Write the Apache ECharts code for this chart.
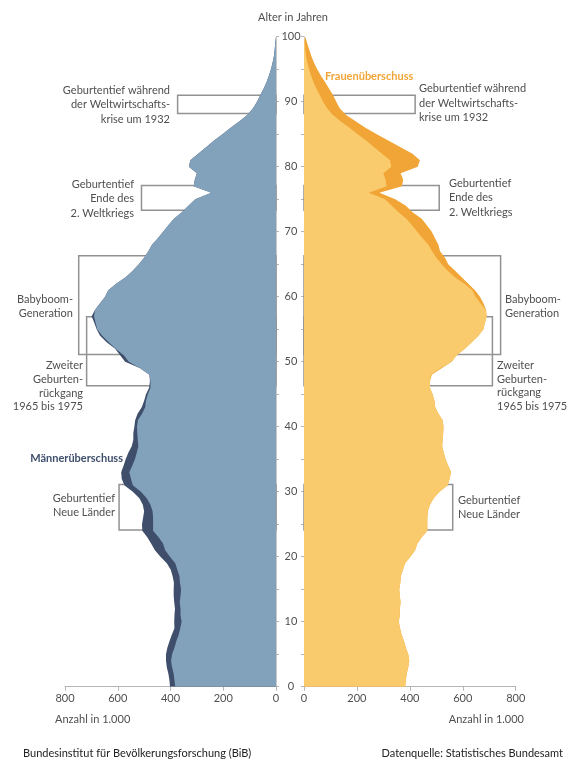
<!DOCTYPE html>
<html>
<head>
<meta charset="utf-8">
<script src="https://cdn.jsdelivr.net/npm/echarts@6.0.0/dist/echarts.min.js"></script>
<style>
html, body { margin: 0; padding: 0; background: #fff; }
#main { width: 571px; height: 760px; }
</style>
</head>
<body>
<div id="main"></div>
<script>
// Alter 0..100, Anzahl in 1.000
var ages = [];
for (var a = 0; a <= 100; a++) ages.push(String(a));

var men = [402, 404, 408, 414, 417, 417, 412, 404, 395, 385,
    386, 385, 383, 386, 388, 388, 387, 392, 399, 414,
    438, 459, 473, 488, 507, 508, 504, 500, 505, 518,
    543, 575, 585, 587, 578, 570, 560, 547, 541, 541,
    537, 534, 525, 509, 500, 493, 481, 478, 480, 515,
    572, 591, 610, 642, 667, 680, 689, 699, 686, 667,
    648, 636, 606, 570, 543, 520, 500, 484, 470, 448,
    428, 408, 387, 357, 332, 306, 245, 312, 308, 300,
    330, 325, 295, 265, 236, 203, 172, 138, 108, 87,
    72, 60, 47, 36, 27, 19, 13, 8, 5, 3, 1];

var women = [382, 385, 388, 394, 398, 394, 385, 378, 369, 363,
    358, 362, 362, 365, 362, 360, 364, 366, 374, 382,
    402, 420, 428, 445, 466, 466, 466, 468, 476, 490,
    512, 543, 550, 556, 545, 535, 528, 522, 524, 526,
    527, 524, 508, 496, 493, 486, 476, 476, 483, 520,
    558, 577, 608, 634, 659, 678, 684, 690, 688, 678,
    665, 646, 621, 596, 571, 545, 533, 514, 508, 495,
    483, 464, 445, 410, 385, 345, 285, 370, 375, 365,
    430, 438, 410, 365, 320, 275, 232, 195, 158, 135,
    122, 110, 95, 80, 64, 50, 38, 28, 20, 12, 5];

var xTicks = [0, 200, 400, 600, 800];

// Markierte Altersbereiche (Kästen)
var boxAges = [[88.2, 91.0], [73.3, 77.1], [51.1, 66.3], [46.3, 56.9], [24.1, 31.1]];
var boxLeft = [373, 510, 748, 718, 595];
var boxRight = [420, 511, 743, 712, 562];

var both = men.map(function (v, i) { return Math.min(v, women[i]); });

var FONT = 'Lato';
var gray = '#4f4f4f';
var txt = '11px Lato';

function boxes(widths) {
    return widths.map(function (w, i) {
        return [{ xAxis: 0, yAxis: boxAges[i][0] }, { xAxis: w, yAxis: boxAges[i][1] }];
    });
}

function xAxisCfg(grid, inverse) {
    return {
        gridIndex: grid, type: 'value', min: xTicks[0], max: xTicks[xTicks.length - 1],
        interval: 200, inverse: inverse,
        axisLine: { show: true, lineStyle: { color: '#b5b5b5', width: 1 } },
        axisTick: { show: true, length: 4, lineStyle: { color: '#b5b5b5' } },
        axisLabel: { color: gray, fontSize: 11, fontFamily: FONT, margin: 6 },
        splitLine: { show: false }
    };
}

function note(x, y, text, align, lh) {
    return {
        type: 'text', x: x, y: y,
        style: { text: text, fill: gray, font: txt, lineHeight: lh || 14.3, textAlign: align, textVerticalAlign: 'middle' }
    };
}

var chart = echarts.init(document.getElementById('main'));

var option = {
    animation: false,
    textStyle: { fontFamily: FONT },
    grid: [
        { left: 65, right: 295, top: 36.7, bottom: 73.3 },
        { left: 304, right: 55.3, top: 36.7, bottom: 73.3 }
    ],
    xAxis: [xAxisCfg(0, true), xAxisCfg(1, false)],
    yAxis: [
        {
            gridIndex: 0, type: 'category', data: ages, boundaryGap: false, position: 'right',
            axisLine: { show: true, lineStyle: { color: '#c8c8c8' } },
            axisTick: { show: true, length: 3, interval: function (i) { return i % 5 === 0; }, lineStyle: { color: '#b5b5b5' } },
            axisLabel: { show: false }
        },
        {
            gridIndex: 1, type: 'category', data: ages, boundaryGap: false, position: 'left',
            axisLine: { show: true, lineStyle: { color: '#c8c8c8' } },
            axisTick: { show: true, length: 3, interval: function (i) { return i % 5 === 0; }, lineStyle: { color: '#b5b5b5' } },
            axisLabel: {
                interval: function (i) { return i % 10 === 0; },
                color: gray, fontSize: 11, fontFamily: FONT, align: 'center', margin: 13
            }
        },
        { gridIndex: 0, type: 'value', min: 0, max: 100, position: 'left', show: false },
        { gridIndex: 1, type: 'value', min: 0, max: 100, position: 'right', show: false }
    ],
    series: [
        {
            name: 'Männerüberschuss', type: 'line', xAxisIndex: 0, yAxisIndex: 0,
            data: men, showSymbol: false, lineStyle: { width: 0 },
            areaStyle: { color: '#3f4f6b', opacity: 1 }, z: 2, silent: true
        },
        {
            name: 'Männer', type: 'line', xAxisIndex: 0, yAxisIndex: 0,
            data: both, showSymbol: false, lineStyle: { width: 0 },
            areaStyle: { color: '#82a1bb', opacity: 1 }, z: 3, silent: true
        },
        {
            name: 'Frauenüberschuss', type: 'line', xAxisIndex: 1, yAxisIndex: 1,
            data: women, showSymbol: false, lineStyle: { width: 0 },
            areaStyle: { color: '#f1a536', opacity: 1 }, z: 2, silent: true
        },
        {
            name: 'Frauen', type: 'line', xAxisIndex: 1, yAxisIndex: 1,
            data: both, showSymbol: false, lineStyle: { width: 0 },
            areaStyle: { color: '#f9cb6c', opacity: 1 }, z: 3, silent: true
        },
        {
            type: 'line', xAxisIndex: 0, yAxisIndex: 2, data: [[0, 0]],
            showSymbol: false, lineStyle: { width: 0 }, z: 5, silent: true,
            markArea: {
                silent: true,
                itemStyle: { color: 'rgba(0,0,0,0)', borderColor: '#929292', borderWidth: 1.5 },
                data: boxes(boxLeft)
            }
        },
        {
            type: 'line', xAxisIndex: 1, yAxisIndex: 3, data: [[0, 0]],
            showSymbol: false, lineStyle: { width: 0 }, z: 5, silent: true,
            markArea: {
                silent: true,
                itemStyle: { color: 'rgba(0,0,0,0)', borderColor: '#929292', borderWidth: 1.5 },
                data: boxes(boxRight)
            }
        }
    ],
    graphic: [
        note(293, 17, 'Alter in Jahren', 'center'),
        // links
        note(170, 104.7, 'Geburtentief während\nder Weltwirtschafts-\nkrise um 1932', 'right', 14.6),
        note(134, 198.7, 'Geburtentief\nEnde des\n2. Weltkriegs', 'right', 14.5),
        note(73, 306.7, 'Babyboom-\nGeneration', 'right', 13.5),
        note(83, 386.2, 'Zweiter\nGeburten-\nrückgang\n1965 bis 1975', 'right', 13.7),
        { type: 'text', x: 123, y: 458.3, style: { text: 'Männerüberschuss', fill: '#3f4f6b', font: 'bold 11px Lato', textAlign: 'right', textVerticalAlign: 'middle' } },
        note(115, 505.5, 'Geburtentief\nNeue Länder', 'right', 14.4),
        { type: 'text', x: 205, y: 293.3, style: { text: 'Männer', fill: '#fff', font: 'bold 14px Lato', textAlign: 'center', textVerticalAlign: 'middle' } },
        // rechts
        { type: 'text', x: 325, y: 76, style: { text: 'Frauenüberschuss', fill: '#f1a536', font: 'bold 11px Lato', textAlign: 'left', textVerticalAlign: 'middle' } },
        note(419, 103, 'Geburtentief während\nder Weltwirtschafts-\nkrise um 1932', 'left', 14.2),
        note(449, 197.7, 'Geburtentief\nEnde des\n2. Weltkriegs', 'left', 14.5),
        note(505, 306.5, 'Babyboom-\nGeneration', 'left', 13.5),
        note(497, 386, 'Zweiter\nGeburten-\nrückgang\n1965 bis 1975', 'left', 13.7),
        note(458, 507.5, 'Geburtentief\nNeue Länder', 'left', 14.4),
        { type: 'text', x: 387, y: 293.3, style: { text: 'Frauen', fill: '#fff', font: 'bold 14px Lato', textAlign: 'center', textVerticalAlign: 'middle' } },
        // Achsentitel und Quellen
        note(55, 719, 'Anzahl in 1.000', 'left'),
        note(524, 719, 'Anzahl in 1.000', 'right'),
        { type: 'text', x: 23, y: 753, style: { text: 'Bundesinstitut für Bevölkerungsforschung (BiB)', fill: '#222', font: txt, textAlign: 'left', textVerticalAlign: 'middle' } },
        { type: 'text', x: 563, y: 753, style: { text: 'Datenquelle: Statistisches Bundesamt', fill: '#222', font: txt, textAlign: 'right', textVerticalAlign: 'middle' } }
    ]
};

chart.setOption(option);
</script>
</body>
</html>
